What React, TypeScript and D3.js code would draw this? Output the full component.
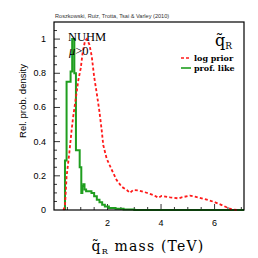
import React, { useEffect, useRef } from 'react';
import * as d3 from 'd3';

// profile likelihood histogram: left bin edges and heights
const profEdges = [0.41, 0.47, 0.62, 0.68, 0.76, 0.82, 0.96, 1.02, 1.06, 1.1, 1.14, 1.2, 1.4, 1.5, 1.6, 1.7, 1.8, 1.9, 2.05, 2.3, 2.6, 3.0, 7.1];
const profVals = [0.29, 0.75, 0.81, 1.0, 0.8, 0.35, 0.25, 0.1, 0.14, 0.15, 0.12, 0.11, 0.1, 0.08, 0.06, 0.045, 0.03, 0.02, 0.012, 0.007, 0.003, 0, 0];

// log prior curve
const priorX = [0.35, 0.41, 0.47, 0.57, 0.66, 0.72, 0.82, 0.91, 1.0, 1.07, 1.16, 1.22, 1.32, 1.41, 1.5, 1.6, 1.69, 1.78, 1.84, 1.97, 2.16, 2.34, 2.53, 2.72, 2.84, 2.96, 3.15, 3.46, 3.71, 3.9, 4.02, 4.34, 4.65, 4.77, 5.08, 5.27, 5.52, 5.77, 6.02, 6.27, 6.45, 6.64, 6.83];
const priorY = [0, 0.02, 0.195, 0.33, 0.47, 0.55, 0.66, 0.76, 0.83, 0.92, 0.99, 1.0, 0.97, 0.9, 0.78, 0.68, 0.585, 0.47, 0.38, 0.3, 0.234, 0.175, 0.136, 0.117, 0.1, 0.117, 0.115, 0.101, 0.088, 0.072, 0.082, 0.074, 0.068, 0.074, 0.084, 0.078, 0.068, 0.058, 0.045, 0.029, 0.016, 0.004, 0];

const xMajor = [2, 4, 6];
const yMajor = [0, 0.2, 0.4, 0.6, 0.8, 1];
const yMajorLabels = ['0', '0.2', '0.4', '0.6', '0.8', '1'];

export default function App() {
  const ref = useRef<SVGSVGElement>(null);
  const width = 258,
    height = 258;
  const margin = { top: 22, right: 14, bottom: 48, left: 54 };

  useEffect(() => {
    const svg = d3.select(ref.current);
    svg.selectAll('*').remove();

    const x = d3.scaleLinear().domain([0, 7.1]).range([margin.left, width - margin.right]);
    const y = d3.scaleLinear().domain([0, 1.1]).range([height - margin.bottom, margin.top]);

    const sans = 'Liberation Sans, Arial, sans-serif';
    const serif = 'DejaVu Serif, serif';

    // minor + major ticks (inside)
    const tk = svg.append('g').attr('stroke', '#000').attr('stroke-width', 0.8);
    d3.range(0.5, 7.01, 0.5).forEach((v) => {
      const major = xMajor.includes(v);
      tk.append('line')
        .attr('x1', x(v)).attr('x2', x(v))
        .attr('y1', y(0)).attr('y2', y(0) - (major ? 6 : 3));
    });
    d3.range(0.05, 1.09, 0.05).forEach((v) => {
      const major = Math.abs(v * 5 - Math.round(v * 5)) < 1e-6;
      tk.append('line')
        .attr('x1', x(0)).attr('x2', x(0) + (major ? 6 : 3))
        .attr('y1', y(v)).attr('y2', y(v));
    });

    // curves
    const prior = priorX.map((d, i) => ({ x: d, y: priorY[i] }));
    const prof = [{ x: profEdges[0], y: 0 }].concat(profEdges.map((d, i) => ({ x: d, y: profVals[i] })));

    const line = d3.line<{ x: number; y: number }>().x((d) => x(d.x)).y((d) => y(d.y));

    svg.append('path')
      .datum(prof)
      .attr('fill', 'none')
      .attr('stroke', '#1f9e1f')
      .attr('stroke-width', 2)
      .attr('d', line.curve(d3.curveStepAfter));

    svg.append('path')
      .datum(prior)
      .attr('fill', 'none')
      .attr('stroke', '#ff1a1a')
      .attr('stroke-width', 1.8)
      .attr('stroke-dasharray', '3,2.2')
      .attr('d', line.curve(d3.curveLinear));

    // frame
    svg.append('rect')
      .attr('x', x(0)).attr('y', y(1.1))
      .attr('width', x(7.1) - x(0)).attr('height', y(0) - y(1.1))
      .attr('fill', 'none').attr('stroke', '#000').attr('stroke-width', 1.2);

    // tick labels
    svg.append('g').selectAll('text').data(xMajor).join('text')
      .attr('x', (d) => x(d)).attr('y', y(0) + 16)
      .attr('text-anchor', 'middle').attr('font-family', sans).attr('font-size', 9)
      .text((d) => d);
    svg.append('g').selectAll('text').data(yMajor).join('text')
      .attr('x', x(0) - 8).attr('y', (d) => y(d) + 3)
      .attr('text-anchor', 'end').attr('font-family', sans).attr('font-size', 9)
      .text((d, i) => yMajorLabels[i]);

    // axis titles
    svg.append('text')
      .attr('transform', `translate(26,101) rotate(-90)`)
      .attr('text-anchor', 'middle').attr('font-family', sans).attr('font-size', 9.5)
      .text('Rel. prob. density');

    const xl = svg.append('text')
      .attr('x', 148).attr('y', 251)
      .attr('text-anchor', 'middle').attr('font-family', serif).attr('font-size', 14)
      .attr('letter-spacing', 1.2);
    xl.append('tspan').text('q\u0303');
    xl.append('tspan').attr('font-size', 8).attr('dy', 3).text('R');
    xl.append('tspan').attr('dy', -3).text(' mass (TeV)');

    // title
    svg.append('text')
      .attr('x', 55).attr('y', 18)
      .attr('font-family', sans).attr('font-size', 5.6).attr('fill', '#333')
      .text('Roszkowski, Ruiz, Trotta, Tsai & Varley (2010)');

    // annotations
    svg.append('text')
      .attr('x', 68).attr('y', 41)
      .attr('font-family', 'Liberation Serif, serif').attr('font-size', 12.5)
      .text('NUHM');
    const mu = svg.append('text')
      .attr('x', 69).attr('y', 55)
      .attr('font-family', 'Liberation Serif, serif').attr('font-size', 12.5);
    mu.append('tspan').attr('font-style', 'italic').text('\u03bc');
    mu.append('tspan').text('>0');

    const ql = svg.append('text')
      .attr('x', 215).attr('y', 46)
      .attr('font-family', serif).attr('font-size', 16);
    ql.append('tspan').text('q\u0303');
    ql.append('tspan').attr('font-size', 9).attr('dy', 3).text('R');

    // legend
    const legend = [
      { label: 'log prior', color: '#ff1a1a', dash: '3,2' },
      { label: 'prof. like', color: '#1f9e1f', dash: null },
    ];
    legend.forEach((d, i) => {
      const ly = 58 + i * 10;
      svg.append('line')
        .attr('x1', 181).attr('x2', 191).attr('y1', ly).attr('y2', ly)
        .attr('stroke', d.color).attr('stroke-width', 1.6)
        .attr('stroke-dasharray', d.dash);
      svg.append('text')
        .attr('x', 194).attr('y', ly + 2.5)
        .attr('font-family', serif).attr('font-size', 8).attr('font-weight', 'bold')
        .text(d.label);
    });
  }, []);

  return (
    <svg
      ref={ref}
      width={width}
      height={height}
      viewBox={`0 0 ${width} ${height}`}
      style={{ position: 'absolute', left: 0, top: 0, background: '#fff' }}
    />
  );
}
